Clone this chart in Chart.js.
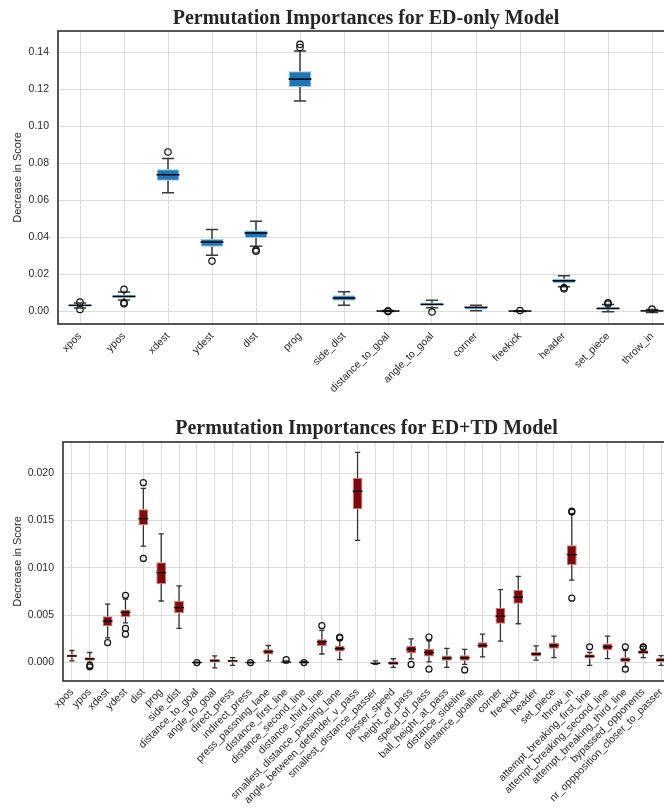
<!DOCTYPE html>
<html><head><meta charset="utf-8">
<script src="https://cdn.jsdelivr.net/npm/chart.js@4.4.1/dist/chart.umd.min.js"></script>
<style>
html,body{margin:0;padding:0;background:#fff;overflow:hidden;width:664px;height:807px;position:relative;}
#c1{position:absolute;left:0;top:0;}
#c2{position:absolute;left:0;top:400px;}
</style></head><body>
<canvas id="c1" width="690" height="405"></canvas>
<canvas id="c2" width="690" height="407"></canvas>
<script>
// ---------- ED-only model ----------
const edLabels = ['xpos','ypos','xdest','ydest','dist','prog','side_dist','distance_to_goal','angle_to_goal','corner','freekick','header','set_piece','throw_in'];
const edQ1  = [0.0025,0.0070,0.0705,0.0348,0.0395,0.1211,0.0056,-0.0002,0.0029,0.0009,-0.0001,0.0150,0.0007,-0.0003];
const edMed = [0.0031,0.0079,0.0737,0.0373,0.0422,0.1254,0.0070, 0.0000,0.0036,0.0020, 0.0000,0.0164,0.0014, 0.0001];
const edQ3  = [0.0036,0.0088,0.0766,0.0389,0.0436,0.1296,0.0085, 0.0002,0.0045,0.0025, 0.0001,0.0175,0.0022, 0.0005];
const edLo  = [0.0017,0.0060,0.0640,0.0301,0.0350,0.1135,0.0031,-0.0003,0.0018,0.0002,-0.0002,0.0132,-0.0004,-0.0008];
const edHi  = [0.0043,0.0103,0.0825,0.0441,0.0485,0.1406,0.0105, 0.0003,0.0058,0.0031, 0.0002,0.0191,0.0036, 0.0009];
const edOut = [[0.0048,0.0009],[0.0117,0.0045,0.0040],[0.0860],[0.0270],[0.0330,0.0323],[0.1442,0.1425],[],[-0.0003,0.0002],[-0.0005],[],[0.0003],[0.0126,0.0121],[0.0045,0.0038],[0.0011]];
const edTicks = [0.00,0.02,0.04,0.06,0.08,0.10,0.12,0.14];

// ---------- ED+TD model ----------
const tdLabels = ['xpos','ypos','xdest','ydest','dist','prog','side_dist','distance_to_goal','angle_to_goal','direct_press','indirect_press','press_passning_lane','distance_first_line','distance_second_line','distance_third_line','smallest_distance_passing_lane','angle_between_defender_v_pass','smallest_distance_passer','passer_speed','height_of_pass','speed_of_pass','ball_height_at_pass','distance_sideline','distance_goalline','corner','freekick','header','set_piece','throw_in','attempt_breaking_first_line','attempt_breaking_second_line','attempt_breaking_third_line','bypassed_opponents','nr_oppposition_closer_to_passer'];
const tdQ1  = [0.00056,0.00020,0.00384,0.00480,0.01450,0.00830,0.00520,-0.00002,0.00000,0.00000,-0.00002,0.00085,0.00000,-0.00002,0.00176,0.00116,0.01620,-0.00014,-0.00025,0.00100,0.00063,0.00018,0.00018,0.00150,0.00410,0.00620,0.00063,0.00145,0.01030,0.00042,0.00130,0.00007,0.00090,0.00000];
const tdMed = [0.00070,0.00040,0.00437,0.00530,0.01520,0.00950,0.00580, 0.00000,0.00018,0.00018, 0.00000,0.00116,0.00005, 0.00003,0.00220,0.00148,0.01810,-0.00007,-0.00007,0.00140,0.00106,0.00046,0.00050,0.00180,0.00490,0.00690,0.00090,0.00180,0.01140,0.00067,0.00166,0.00030,0.00110,0.00025];
const tdQ3  = [0.00085,0.00056,0.00490,0.00560,0.01620,0.01060,0.00650, 0.00002,0.00040,0.00030, 0.00002,0.00140,0.00010, 0.00005,0.00247,0.00176,0.01950, 0.00000, 0.00014,0.00176,0.00145,0.00074,0.00078,0.00215,0.00580,0.00770,0.00113,0.00210,0.01240,0.00088,0.00200,0.00056,0.00130,0.00050];
const tdLo  = [0.00018,0.00005,0.00260,0.00420,0.01230,0.00650,0.00360,-0.00004,-0.00056,-0.00030,-0.00003,0.00018,-0.00005,-0.00004,0.00090,0.00030,0.01290,-0.00020,-0.00050,0.00040,0.00007,-0.00050,-0.00020,0.00060,0.00226,0.00410,0.00025,0.00053,0.00870,-0.00030,0.00042,-0.00046,0.00053,-0.00030];
const tdHi  = [0.00127,0.00106,0.00617,0.00670,0.01840,0.01360,0.00810, 0.00004,0.00070,0.00053, 0.00003,0.00180,0.00018, 0.00010,0.00340,0.00240,0.02220, 0.00018, 0.00040,0.00250,0.00230,0.00150,0.00140,0.00300,0.00770,0.00910,0.00176,0.00280,0.01570,0.00106,0.00280,0.00130,0.00170,0.00074];
const tdOut = [[],[-0.00030,-0.00045],[0.00210],[0.00710,0.00360,0.00300],[0.01900,0.01100],[],[],[0.0],[],[],[0.0],[],[0.00030],[0.0],[0.00390],[0.00270,0.00260],[],[],[],[-0.00020],[0.00270,-0.00070],[],[-0.00078],[],[],[],[],[],[0.01600,0.01590,0.00680],[0.00166],[],[0.00166,-0.00070],[0.00166,0.00160],[]];
const tdTicks = [0.000,0.005,0.010,0.015,0.020];

const FRAME = '#2e2e2e', GRID = '#dcdcdc', TXT = '#2a2a2a';

function boxChart(id, o) {
  const pts = [];
  o.out.forEach((arr, i) => arr.forEach(v => pts.push({x: o.labels[i], y: v})));
  const parts = {
    id: 'boxparts',
    afterDatasetDraw(chart, args) {
      if (args.index !== 0) return;
      const ctx = chart.ctx, ys = chart.scales.y;
      const meta = chart.getDatasetMeta(0);
      ctx.save();
      meta.data.forEach((bar, i) => {
        const p = bar.getProps(['x', 'width'], true);
        const cx = p.x, w = p.width, cw = w * 0.27;
        const yq1 = ys.getPixelForValue(o.q1[i]), yq3 = ys.getPixelForValue(o.q3[i]);
        const ylo = ys.getPixelForValue(o.lo[i]), yhi = ys.getPixelForValue(o.hi[i]);
        const ym = ys.getPixelForValue(o.med[i]);
        ctx.strokeStyle = o.whisk; ctx.lineWidth = o.wlw;
        ctx.beginPath();
        ctx.moveTo(cx, yq3); ctx.lineTo(cx, yhi);
        ctx.moveTo(cx, yq1); ctx.lineTo(cx, ylo);
        ctx.moveTo(cx - cw, yhi); ctx.lineTo(cx + cw, yhi);
        ctx.moveTo(cx - cw, ylo); ctx.lineTo(cx + cw, ylo);
        ctx.stroke();
        ctx.strokeStyle = '#000'; ctx.lineWidth = o.mlw;
        ctx.beginPath();
        ctx.moveTo(cx - w / 2, ym); ctx.lineTo(cx + w / 2, ym);
        ctx.stroke();
      });
      ctx.restore();
    },
    afterDraw(chart) {
      const a = chart.chartArea, ctx = chart.ctx;
      ctx.save();
      ctx.strokeStyle = FRAME; ctx.lineWidth = 1.6;
      ctx.strokeRect(a.left, a.top, a.right - a.left, a.bottom - a.top);
      ctx.restore();
    }
  };
  return new Chart(document.getElementById(id), {
    type: 'bar',
    data: {
      labels: o.labels,
      datasets: [
        { type: 'bar', data: o.q1.map((v, i) => [v, o.q3[i]]), backgroundColor: o.fill, borderColor: o.edge,
          borderWidth: 1, borderSkipped: false, barPercentage: o.bw, categoryPercentage: 1, order: 2 },
        { type: 'line', data: pts, showLine: false, pointStyle: 'circle', pointRadius: o.pr,
          pointBackgroundColor: 'rgba(0,0,0,0)', pointBorderColor: '#111', pointBorderWidth: 1.2, order: 1 }
      ]
    },
    options: {
      responsive: false, animation: false, devicePixelRatio: 1,
      layout: { padding: { left: 0, right: o.W - o.right, top: 0, bottom: 0 } },
      plugins: {
        legend: { display: false }, tooltip: { enabled: false },
        title: { display: true, text: o.title, fullSize: false, color: '#262626',
          font: { family: 'Liberation Serif', weight: 'bold', size: 20, lineHeight: 1.0 },
          padding: { top: o.tpad, bottom: o.top - o.tpad - 20 } }
      },
      scales: {
        x: {
          type: 'category', offset: true,
          grid: { offset: false, color: GRID, lineWidth: 1, drawTicks: false },
          border: { display: false },
          ticks: { autoSkip: false, minRotation: 45, maxRotation: 45, padding: o.xpad, color: TXT,
            font: { family: 'Liberation Sans', size: o.xfs } },
          afterFit: s => { s.height = o.H - o.bottom; }
        },
        y: {
          min: o.min, max: o.max,
          grid: { color: GRID, lineWidth: 1, drawTicks: false },
          border: { display: false },
          afterBuildTicks: s => { s.ticks = o.ticks.map(v => ({ value: v })); },
          ticks: { padding: 9, color: TXT, font: { family: 'Liberation Sans', size: 10.5 },
            callback: v => Number(v).toFixed(o.dec) },
          title: { display: true, text: 'Decrease in Score', color: TXT,
            font: { family: 'Liberation Sans', size: 11 }, padding: { top: 11, bottom: 0 } },
          afterFit: s => { s.width = o.left; }
        }
      }
    },
    plugins: [parts]
  });
}

boxChart('c1', {
  labels: edLabels, q1: edQ1, med: edMed, q3: edQ3, lo: edLo, hi: edHi, out: edOut, ticks: edTicks, dec: 2,
  title: 'Permutation Importances for ED-only Model', fill: '#1f77b4', edge: '#9cc8e8', whisk: '#3a3a3a',
  wlw: 1.5, mlw: 1.5, bw: 0.52, pr: 3.2, min: -0.0070, max: 0.1514,
  W: 690, H: 405, left: 58, right: 674, top: 31, bottom: 324, tpad: 9, xfs: 10.5, xpad: 6
});
boxChart('c2', {
  labels: tdLabels, q1: tdQ1, med: tdMed, q3: tdQ3, lo: tdLo, hi: tdHi, out: tdOut, ticks: tdTicks, dec: 3,
  title: 'Permutation Importances for ED+TD Model', fill: '#7c0a0a', edge: '#c97a7a', whisk: '#333333',
  wlw: 1.3, mlw: 1.3, bw: 0.55, pr: 3, min: -0.00195, max: 0.0233,
  W: 690, H: 407, left: 63, right: 670, top: 42, bottom: 281, tpad: 19, xfs: 10.5, xpad: 5
});
</script>
</body></html>
